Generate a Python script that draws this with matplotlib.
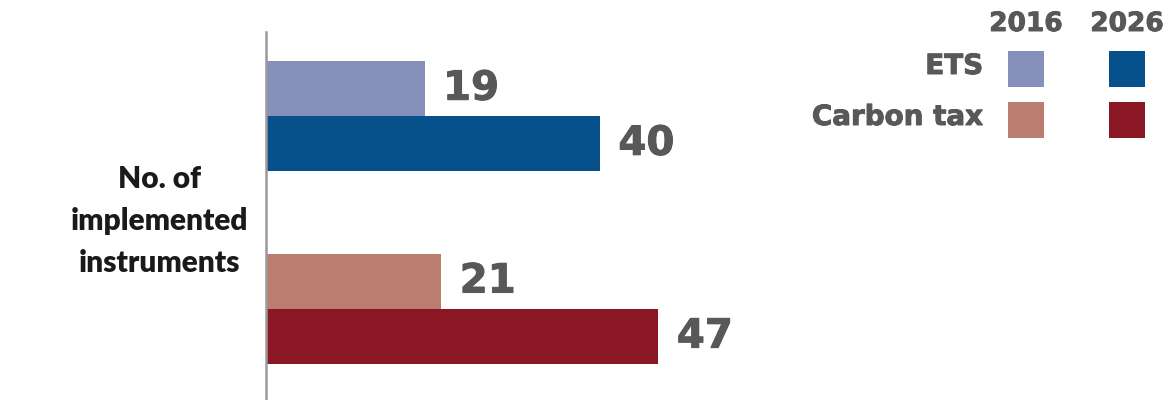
import matplotlib.pyplot as plt
import matplotlib.patheffects as pe
from matplotlib.patches import Rectangle

plt.rcParams['font.family'] = ['DejaVu Sans']

instruments = ['ETS', 'Carbon tax']
years = ['2016', '2026']
counts_2016 = [19, 21]
counts_2026 = [40, 47]
colors_2016 = ['#8591ba', '#bb7d6f']
colors_2026 = ['#06508c', '#8a1723']
ylabel = 'No. of\nimplemented\ninstruments'

W, H = 1171, 400
text_grey = '#58585a'
# a thin outline in the text colour makes the bold face a bit heavier
heavy = [pe.withStroke(linewidth=0.7, foreground=text_grey)]


def px(x, y):
    # pixel position (from top left) -> figure fraction
    return x / W, 1 - y / H


fig = plt.figure(figsize=(W / 100, H / 100), dpi=100)
ax = fig.add_axes([266 / W, 0, (W - 266) / W, (H - 32) / H])

centers = [0, 3.5]
for i, name in enumerate(instruments):
    for off, vals, cols in ((-0.5, counts_2016, colors_2016), (0.5, counts_2026, colors_2026)):
        y = centers[i] + off
        ax.barh(y, vals[i], height=1.0, color=cols[i], edgecolor='none')
        ax.text(vals[i] + 2.2, y, str(vals[i]), ha='left', va='center',
                fontsize=29, fontweight='bold', color=text_grey, path_effects=heavy)

ax.set_xlim(0, (W - 266) / 8.35)
ax.set_ylim(5.15, -1.53)
for s in ('top', 'right', 'bottom'):
    ax.spines[s].set_visible(False)
ax.spines['left'].set_color('#9a9a9a')
ax.spines['left'].set_linewidth(1.8)
ax.set_xticks([])
ax.set_yticks([])

fig.text(*px(160, 221), ylabel, ha='center', va='center', fontsize=21.5,
         fontweight='heavy', family=['Lato', 'DejaVu Sans'], color='#1a1a1a',
         linespacing=1.6)

# legend grid: year columns, instrument rows
col_x = [1026, 1127]
row_y = [69, 120]
for j, yr in enumerate(years):
    fig.text(*px(col_x[j], 24), yr, ha='center', va='center', fontsize=19,
             fontweight='bold', color=text_grey, path_effects=heavy)
for i, name in enumerate(instruments):
    fig.text(*px(983, row_y[i] - 3), name, ha='right', va='center', fontsize=20,
             fontweight='bold', color=text_grey, path_effects=heavy)
    for j, cols in enumerate((colors_2016, colors_2026)):
        x0, y0 = px(col_x[j] - 18, row_y[i] + 18)
        fig.add_artist(Rectangle((x0, y0), 36 / W, 36 / H, transform=fig.transFigure,
                                 facecolor=cols[i], edgecolor='none'))

fig.savefig('out.png', dpi=100)
